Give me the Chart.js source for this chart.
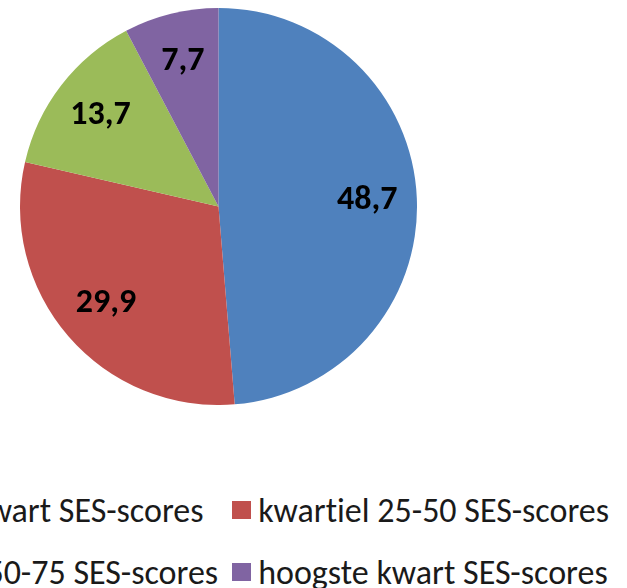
<!DOCTYPE html>
<html>
<head>
<meta charset="utf-8">
<script src="https://cdn.jsdelivr.net/npm/chart.js@4/dist/chart.umd.min.js"></script>
<style>
  html, body { margin: 0; padding: 0; background: #fff; overflow: hidden; }
  #wrap { position: relative; width: 627px; height: 588px; overflow: hidden; }
  #pie { position: absolute; left: 20px; top: 8px; width: 397px; height: 397px; }
  #legend {
    position: absolute; right: 18px; top: 492px;
    display: grid; grid-template-columns: max-content max-content;
    column-gap: 14px; row-gap: 26px;
    font-family: Carlito, Lato, sans-serif; font-size: 34px; color: #1a1a1a;
    font-variant-ligatures: none;
  }
  .item { display: flex; align-items: center; height: 36px; white-space: nowrap; }
  .box { width: 19px; height: 18px; margin-right: 7px; flex: none; }
</style>
</head>
<body>
<div id="wrap">
  <div id="pie"><canvas id="c"></canvas></div>
  <div id="legend"></div>
</div>
<script>
const categories = ['laagste kwart SES-scores', 'kwartiel 25-50 SES-scores', 'kwartiel 50-75 SES-scores', 'hoogste kwart SES-scores'];
const values = [48.7, 29.9, 13.7, 7.7];
const colors = ['#4F81BD', '#C0504D', '#9BBB59', '#8064A2'];

// labels inside the slices, dutch decimal comma
const sliceLabels = {
  id: 'sliceLabels',
  afterDatasetsDraw(chart) {
    const ctx = chart.ctx;
    const meta = chart.getDatasetMeta(0);
    ctx.save();
    ctx.font = 'bold 34px Carlito, Lato, sans-serif';
    ctx.fillStyle = '#000';
    ctx.textAlign = 'center';
    ctx.textBaseline = 'middle';
    meta.data.forEach((arc, i) => {
      const p = arc.getProps(['x', 'y', 'startAngle', 'endAngle', 'outerRadius'], true);
      const mid = (p.startAngle + p.endAngle) / 2;
      const r = p.outerRadius * 0.75;
      const txt = values[i].toFixed(1).replace('.', ',');
      ctx.fillText(txt, p.x + Math.cos(mid) * r, p.y + Math.sin(mid) * r);
    });
    ctx.restore();
  }
};

const chart = new Chart(document.getElementById('c'), {
  type: 'pie',
  data: {
    labels: categories,
    datasets: [{
      data: values,
      backgroundColor: colors,
      borderWidth: 0
    }]
  },
  options: {
    responsive: true,
    maintainAspectRatio: false,
    animation: false,
    layout: { padding: 0 },
    plugins: {
      legend: { display: false },
      tooltip: { enabled: false }
    }
  },
  plugins: [sliceLabels]
});

// legend in two columns, excel style
const legendEl = document.getElementById('legend');
const items = Chart.overrides.pie.plugins.legend.labels.generateLabels(chart);
items.forEach(it => {
  const div = document.createElement('div');
  div.className = 'item';
  const box = document.createElement('span');
  box.className = 'box';
  box.style.background = it.fillStyle;
  div.appendChild(box);
  div.appendChild(document.createTextNode(it.text));
  legendEl.appendChild(div);
});
</script>
</body>
</html>
